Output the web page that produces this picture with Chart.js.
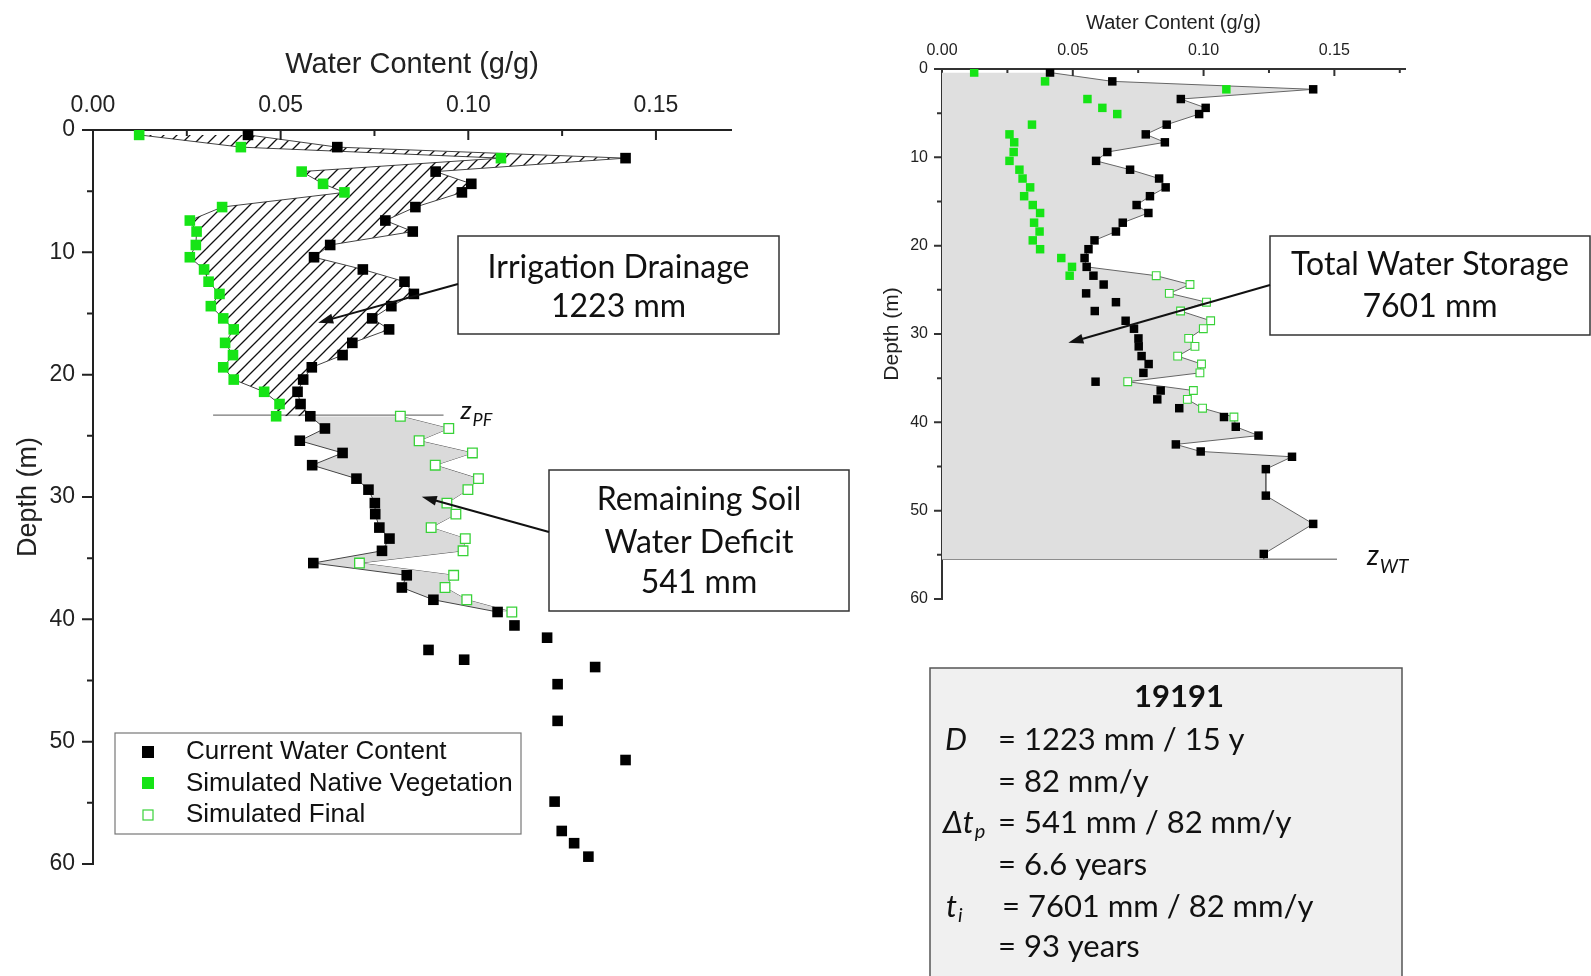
<!DOCTYPE html>
<html lang="en">
<head>
<meta charset="UTF-8">
<title>Water content profiles 19191</title>
<script src="https://cdn.jsdelivr.net/npm/chart.js"></script>
<style>
  body { margin: 0; background: #fff; }
  canvas { position: absolute; top: 0; }
  #leftChart { left: 0; }
  #rightChart { left: 860px; }
</style>
</head>
<body>
<canvas id="leftChart" width="860" height="976"></canvas>
<canvas id="rightChart" width="731" height="976"></canvas>
<script>
// sample depths (m) of the measured profile
const depth = [0.4, 1.4, 2.3, 3.4, 4.4, 5.1, 6.3, 7.4, 8.3, 9.4, 10.4, 11.4, 12.4, 13.4, 14.4, 15.4,
  16.3, 17.4, 18.4, 19.4, 20.4, 21.4, 22.4, 23.4, 24.4, 25.4, 26.4, 27.4, 28.5, 29.4, 30.5, 31.4,
  32.5, 33.4, 34.4, 35.4, 36.4, 37.4, 38.4, 39.4, 40.5, 41.5, 42.5, 43.3, 43.9, 45.3, 48.3, 51.5,
  54.9, 57.3, 58.3, 59.4];
// current water content (g/g)
const current = [0.0413, 0.0651, 0.1419, 0.0913, 0.1008, 0.0983, 0.0859, 0.0779, 0.0852, 0.0632,
  0.0589, 0.0719, 0.0830, 0.0855, 0.0795, 0.0744, 0.0789, 0.0691, 0.0665, 0.0583, 0.0560, 0.0545,
  0.0553, 0.0579, 0.0618, 0.0551, 0.0665, 0.0584, 0.0702, 0.0734, 0.0751, 0.0752, 0.0763, 0.0790,
  0.0770, 0.0587, 0.0836, 0.0823, 0.0907, 0.1078, 0.1123, 0.1210, 0.0894, 0.0989, 0.1338, 0.1238,
  0.1238, 0.1419, 0.1230, 0.1249, 0.1282, 0.1320];
// simulated native vegetation, first 24 depths (0.4 - 23.4 m)
const native = [0.0123, 0.0394, 0.1087, 0.0556, 0.0613, 0.0670, 0.0344, 0.0258, 0.0276, 0.0274,
  0.0258, 0.0296, 0.0308, 0.0337, 0.0314, 0.0347, 0.0375, 0.0352, 0.0373, 0.0347, 0.0375, 0.0456,
  0.0497, 0.0488];
// simulated final profile, depths 23.4 - 39.4 m
const simFinal = [0.0819, 0.0948, 0.0869, 0.1011, 0.0912, 0.1027, 0.0999, 0.0943, 0.0967, 0.0901,
  0.0992, 0.0986, 0.0710, 0.0961, 0.0938, 0.0996, 0.1116];

const zPF = 23.3;   // depth of the irrigation front
const zWT = 55.5;   // water table

const sans = '"Liberation Sans", Arial, sans-serif';
const calib = 'Lato, "Open Sans", sans-serif';
const green = '#16e416';
const greenEdge = '#39d239';

function pts(xs, ys) {
  return xs.map((x, i) => ({x: x, y: ys[i]}));
}

const curPts = pts(current, depth);
const curTop = pts(current.slice(0, 24), depth.slice(0, 24));
const curMid = pts(current.slice(23, 40), depth.slice(23, 40));
const nativePts = pts(native, depth.slice(0, 24));
const finalPts = pts(simFinal, depth.slice(23, 40));
// outline of total storage: current above zPF, final profile, current down to the water table
const storage = pts(current.slice(0, 23), depth.slice(0, 23))
  .concat(finalPts)
  .concat(pts(current.slice(40, 49), depth.slice(40, 49)))
  .concat([{x: current[48], y: zWT}]);

function hatch() {
  const c = document.createElement('canvas');
  c.width = c.height = 13;
  const g = c.getContext('2d');
  g.strokeStyle = '#111';
  g.lineWidth = 1.3;
  g.beginPath();
  g.moveTo(-13, 13); g.lineTo(13, -13);
  g.moveTo(0, 13); g.lineTo(13, 0);
  g.moveTo(0, 26); g.lineTo(26, 0);
  g.stroke();
  return g.createPattern(c, 'repeat');
}

function drawTicks(chart, o) {
  const {ctx, chartArea: a, scales: {x, y}} = chart;
  ctx.save();
  ctx.strokeStyle = o.color;
  ctx.lineWidth = o.width;
  ctx.beginPath();
  for (let i = 1; i * 0.025 <= x.max; i++) {
    const px = x.getPixelForValue(i * 0.025);
    const len = i % 2 === 0 ? o.xMajor : o.xMinor;
    ctx.moveTo(px, a.top); ctx.lineTo(px, a.top + len);
  }
  for (let v = 0; v <= 60; v += 5) {
    const py = y.getPixelForValue(v);
    const len = v % 10 === 0 ? o.yMajor : o.yMinor;
    ctx.moveTo(a.left, py); ctx.lineTo(a.left - len, py);
  }
  ctx.stroke();
  ctx.restore();
}

function arrow(ctx, x1, y1, x2, y2) {
  const ang = Math.atan2(y2 - y1, x2 - x1);
  const c = Math.cos(ang), s = Math.sin(ang);
  const L = 15, W = 5;
  ctx.save();
  ctx.strokeStyle = '#111';
  ctx.fillStyle = '#111';
  ctx.lineWidth = 2;
  ctx.beginPath();
  ctx.moveTo(x1, y1);
  ctx.lineTo(x2 - L * 0.7 * c, y2 - L * 0.7 * s);
  ctx.stroke();
  ctx.beginPath();
  ctx.moveTo(x2, y2);
  ctx.lineTo(x2 - L * c + W * s, y2 - L * s - W * c);
  ctx.lineTo(x2 - L * c - W * s, y2 - L * s + W * c);
  ctx.closePath();
  ctx.fill();
  ctx.restore();
}

function textBox(ctx, x, y, w, h, lines, rows) {
  ctx.save();
  ctx.fillStyle = '#fff';
  ctx.fillRect(x, y, w, h);
  ctx.strokeStyle = '#333';
  ctx.lineWidth = 1.5;
  ctx.strokeRect(x, y, w, h);
  ctx.fillStyle = '#111';
  ctx.font = '32px ' + calib;
  ctx.textAlign = 'center';
  ctx.textBaseline = 'middle';
  lines.forEach((t, i) => ctx.fillText(t, x + w / 2, rows[i]));
  ctx.restore();
}

// z label with a subscript
function zLabel(ctx, x, base, sub, big, small, subDrop) {
  ctx.save();
  ctx.fillStyle = '#111';
  ctx.textBaseline = 'alphabetic';
  ctx.textAlign = 'left';
  ctx.font = 'italic ' + big + 'px ' + calib;
  ctx.fillText('z', x, base);
  const w = ctx.measureText('z').width;
  ctx.font = 'italic ' + small + 'px ' + calib;
  ctx.fillText(sub, x + w + 1, base + subDrop);
  ctx.restore();
}

const leftDecor = {
  id: 'leftDecor',
  afterDraw(chart) {
    const {ctx, scales: {x, y}} = chart;
    drawTicks(chart, {color: '#222', width: 2, xMajor: 10, xMinor: 6, yMajor: 11, yMinor: 6});

    zLabel(ctx, x.getPixelForValue(0.0934) + 17, y.getPixelForValue(zPF) + 4, 'PF', 26, 18, 7);

    textBox(ctx, 458, 236, 321, 98, ['Irrigation Drainage', '1223 mm'], [268, 307]);
    arrow(ctx, 458, 284, x.getPixelForValue(0.0600), y.getPixelForValue(15.75));
    textBox(ctx, 549, 470, 300, 141, ['Remaining Soil', 'Water Deficit', '541 mm'], [500, 543, 583]);
    arrow(ctx, 549, 532, x.getPixelForValue(0.0876), y.getPixelForValue(29.98));

    // legend
    ctx.save();
    ctx.fillStyle = '#fff';
    ctx.fillRect(115, 733, 406, 101);
    ctx.strokeStyle = '#777';
    ctx.lineWidth = 1.2;
    ctx.strokeRect(115, 733, 406, 101);
    ctx.fillStyle = '#000';
    ctx.fillRect(142, 746, 12, 12);
    ctx.fillStyle = green;
    ctx.fillRect(142, 777, 12, 12);
    ctx.fillStyle = '#fff';
    ctx.strokeStyle = greenEdge;
    ctx.fillRect(143, 810, 10, 10);
    ctx.strokeRect(143, 810, 10, 10);
    ctx.fillStyle = '#111';
    ctx.font = '26px ' + sans;
    ctx.textBaseline = 'middle';
    ctx.fillText('Current Water Content', 186, 752);
    ctx.fillText('Simulated Native Vegetation', 186, 784);
    ctx.fillText('Simulated Final', 186, 815);
    ctx.restore();
  }
};

const rightDecor = {
  id: 'rightDecor',
  afterDraw(chart) {
    const {ctx, scales: {x, y}} = chart;
    drawTicks(chart, {color: '#333', width: 2, xMajor: 7, xMinor: 4, yMajor: 8, yMinor: 5});

    zLabel(ctx, x.getPixelForValue(0.151) + 30, y.getPixelForValue(zWT) + 6, 'WT', 28, 19, 8);

    textBox(ctx, 410, 236, 320, 99, ['Total Water Storage', '7601 mm'], [265, 307]);
    arrow(ctx, 410, 285, x.getPixelForValue(0.0483), y.getPixelForValue(31.0));

    // summary panel
    ctx.save();
    ctx.fillStyle = '#f0f0f0';
    ctx.fillRect(70, 668, 472, 330);
    ctx.strokeStyle = '#555';
    ctx.lineWidth = 1.5;
    ctx.strokeRect(70, 668, 472, 330);
    ctx.fillStyle = '#111';
    ctx.textBaseline = 'middle';
    ctx.textAlign = 'center';
    ctx.font = 'bold 31px ' + calib;
    ctx.fillText('19191', 319, 697);
    ctx.textAlign = 'left';
    ctx.font = '31px ' + calib;
    const rows = [
      ['= 1223 mm / 15 y', 740],
      ['= 82 mm/y', 782],
      ['= 541 mm / 82 mm/y', 823],
      ['= 6.6 years', 865],
      ['= 7601 mm / 82 mm/y', 907],
      ['= 93 years', 947]
    ];
    rows.forEach(r => ctx.fillText(r[0], r[0].startsWith('= 7601') ? 142 : 138, r[1]));
    ctx.font = 'italic 31px ' + calib;
    ctx.fillText('D', 85, 740);
    ctx.fillText('\u0394t', 83, 823);
    const dw = ctx.measureText('\u0394t').width;
    ctx.fillText('t', 86, 907);
    const tw = ctx.measureText('t').width;
    ctx.font = 'italic 20px ' + calib;
    ctx.fillText('p', 83 + dw + 1, 832);
    ctx.fillText('i', 86 + tw + 1, 916);
    ctx.restore();
  }
};

function axes(cfg) {
  return {
    x: {
      type: 'linear', position: 'top', min: 0, max: cfg.xMax,
      afterFit: s => { s.height = cfg.top; },
      grid: {display: false, drawTicks: false},
      border: {color: cfg.axisColor, width: 2},
      ticks: {
        stepSize: 0.05, includeBounds: false, maxRotation: 0, padding: cfg.xPad,
        color: '#222', font: {family: sans, size: cfg.tickSize},
        callback: v => v.toFixed(2)
      },
      title: {
        display: true, text: 'Water Content (g/g)', color: '#222',
        font: {family: sans, size: cfg.titleSize}, padding: {top: cfg.xTitlePad, bottom: 0}
      }
    },
    y: {
      type: 'linear', reverse: true, min: 0, max: 60,
      afterFit: s => { s.width = cfg.left; },
      grid: {display: false, drawTicks: false},
      border: {color: cfg.axisColor, width: 2},
      ticks: {
        stepSize: 10, padding: cfg.yPad,
        color: '#222', font: {family: sans, size: cfg.tickSize}
      },
      title: {
        display: true, text: 'Depth (m)', color: '#222',
        font: {family: sans, size: cfg.yTitleSize}, padding: {top: cfg.yTitlePad, bottom: 0}
      }
    }
  };
}

new Chart(document.getElementById('leftChart'), {
  type: 'line',
  data: {
    datasets: [
      {label: 'Current Water Content', data: curPts, showLine: false,
       pointStyle: 'rect', pointRadius: 7.5, pointBackgroundColor: '#000', pointBorderWidth: 0},
      {label: 'Simulated Native Vegetation', data: nativePts, showLine: false,
       pointStyle: 'rect', pointRadius: 7.5, pointBackgroundColor: green, pointBorderWidth: 0},
      {label: 'Simulated Final', data: finalPts, showLine: false,
       pointStyle: 'rect', pointRadius: 6.8, pointBackgroundColor: '#fff',
       pointBorderColor: greenEdge, pointBorderWidth: 1.3},
      // drainage area between current and native profiles
      {data: curTop, pointRadius: 0, borderColor: '#444', borderWidth: 1,
       backgroundColor: hatch(), fill: 4},
      {data: nativePts, pointRadius: 0, borderColor: '#444', borderWidth: 1, fill: false},
      // remaining deficit between current and final profiles
      {data: curMid, pointRadius: 0, borderColor: '#444', borderWidth: 1,
       backgroundColor: '#dadada', fill: 6},
      {data: finalPts, pointRadius: 0, borderColor: '#555', borderWidth: 1, fill: false},
      {data: [{x: 0.032, y: zPF}, {x: 0.0934, y: zPF}], pointRadius: 0,
       borderColor: '#777', borderWidth: 1.3, fill: false}
    ]
  },
  options: {
    responsive: false, animation: false, events: [], indexAxis: 'y',
    layout: {padding: {left: 0, top: 0, right: 129, bottom: 112}},
    plugins: {legend: {display: false}, tooltip: {enabled: false}},
    scales: axes({xMax: 0.17, top: 130, left: 93, axisColor: '#222', tickSize: 23, titleSize: 29,
      yTitleSize: 27, xPad: 11, yPad: 18, xTitlePad: 48, yTitlePad: 12})
  },
  plugins: [leftDecor]
});

new Chart(document.getElementById('rightChart'), {
  type: 'line',
  data: {
    datasets: [
      {label: 'Current Water Content', data: curPts.slice(0, 49), showLine: false,
       pointStyle: 'rect', pointRadius: 6, pointBackgroundColor: '#000', pointBorderWidth: 0},
      {label: 'Simulated Native Vegetation', data: nativePts, showLine: false,
       pointStyle: 'rect', pointRadius: 6, pointBackgroundColor: green, pointBorderWidth: 0},
      {label: 'Simulated Final', data: finalPts, showLine: false,
       pointStyle: 'rect', pointRadius: 5.5, pointBackgroundColor: '#fff',
       pointBorderColor: greenEdge, pointBorderWidth: 1.1},
      {data: storage, pointRadius: 0, borderColor: '#666', borderWidth: 1,
       backgroundColor: '#dfdfdf', fill: 'origin'},
      {data: [{x: 0, y: zWT}, {x: 0.151, y: zWT}], pointRadius: 0,
       borderColor: '#888', borderWidth: 1.3, fill: false}
    ]
  },
  options: {
    responsive: false, animation: false, events: [], indexAxis: 'y',
    layout: {padding: {left: 0, top: 0, right: 186, bottom: 377}},
    plugins: {legend: {display: false}, tooltip: {enabled: false}},
    scales: axes({xMax: 0.177, top: 69, left: 82, axisColor: '#333', tickSize: 16, titleSize: 20,
      yTitleSize: 21, xPad: 9, yPad: 14, xTitlePad: 11, yTitlePad: 20})
  },
  plugins: [rightDecor]
});
</script>
</body>
</html>
